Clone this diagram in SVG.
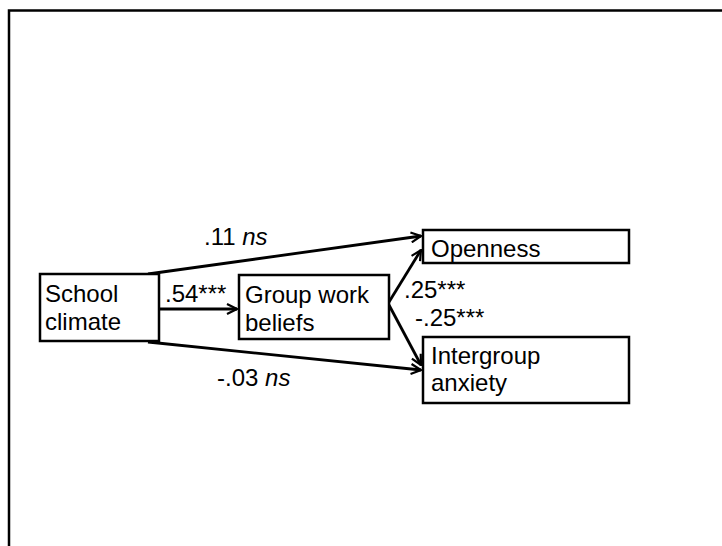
<svg xmlns="http://www.w3.org/2000/svg" width="722" height="546" viewBox="0 0 722 546">
  <defs>
    <marker id="open-arrow" viewBox="0 0 12 12" refX="11" refY="6" markerWidth="12" markerHeight="12" markerUnits="userSpaceOnUse" orient="auto">
      <path d="M1,1 L11,6 L1,11" fill="none" stroke="#000" stroke-width="2.2" stroke-linejoin="miter"/>
    </marker>
  </defs>
  <style>
    .frame { fill: #fff; stroke: #000; stroke-width: 2.5; }
    .box { fill: #fff; stroke: #000; stroke-width: 2.5; }
    .label { font-family: "Liberation Sans", Arial, sans-serif; font-size: 24px; fill: #000; }
    .coef { font-family: "Liberation Sans", Arial, sans-serif; font-size: 24px; fill: #000; }
    .path { fill: none; stroke: #000; stroke-width: 2.8; marker-end: url(#open-arrow); }
  </style>

  <rect x="0" y="0" width="722" height="546" fill="#fff"/>
  <rect class="frame" x="9" y="10.5" width="730" height="560"/>

  <!-- paths between constructs -->
  <g id="connectors">
    <line class="path" x1="148" y1="274" x2="421" y2="236"/>
    <line class="path" x1="159" y1="309" x2="237" y2="309"/>
    <line class="path" x1="148" y1="342" x2="421" y2="370"/>
    <line class="path" x1="389" y1="302" x2="421" y2="250"/>
    <line class="path" x1="389" y1="305" x2="421" y2="365"/>
  </g>

  <g id="coefficients">
    <text class="coef" x="204" y="245">.11 <tspan font-style="italic">ns</tspan></text>
    <text class="coef" x="165" y="302">.54***</text>
    <text class="coef" x="217" y="386">-.03 <tspan font-style="italic">ns</tspan></text>
    <text class="coef" x="404" y="298">.25***</text>
    <text class="coef" x="415" y="326">-.25***</text>
  </g>

  <g id="school-climate">
    <rect class="box" x="40" y="274" width="119" height="67"/>
    <text class="label" x="45" y="302">School</text>
    <text class="label" x="45" y="330">climate</text>
  </g>

  <g id="group-work-beliefs">
    <rect class="box" x="239" y="275" width="150" height="64"/>
    <text class="label" x="245" y="303">Group work</text>
    <text class="label" x="245" y="331">beliefs</text>
  </g>

  <g id="openness">
    <rect class="box" x="423" y="230" width="206" height="33"/>
    <text class="label" x="431" y="257">Openness</text>
  </g>

  <g id="intergroup-anxiety">
    <rect class="box" x="423" y="337" width="206" height="66"/>
    <text class="label" x="431" y="364">Intergroup</text>
    <text class="label" x="431" y="391">anxiety</text>
  </g>
</svg>
